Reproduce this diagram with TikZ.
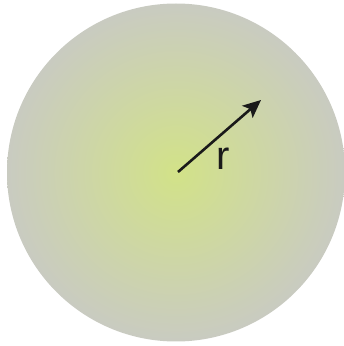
\documentclass[tikz,border=0pt]{standalone}
\usepackage{fontspec}
\setmainfont{Liberation Sans}
\usetikzlibrary{arrows.meta}
\definecolor{cin}{RGB}{210,226,136}
\definecolor{cout}{RGB}{201,203,193}
\definecolor{ink}{RGB}{26,26,26}
\tikzset{
  ball/.style={inner color=cin, outer color=cout, draw=none},
  radius arrow/.style={draw=ink, line width=2.6pt, -{Stealth[length=18pt,width=16pt,inset=4pt]}},
  lbl/.style={text=ink, font=\fontsize{40}{48}\selectfont, inner sep=0pt}
}
\begin{document}
\begin{tikzpicture}[x=1pt,y=1pt]
\useasboundingbox (0,0) rectangle (344,346);
\coordinate (c) at (176,173.5);
\shade[ball] (c) circle[radius=169];
\coordinate (ctr) at (178,174);
\coordinate (tip) at (261,246);
\draw[radius arrow] (ctr) -- (tip);
\node[lbl] (r) at (223,187) {r};
\end{tikzpicture}
\end{document}
